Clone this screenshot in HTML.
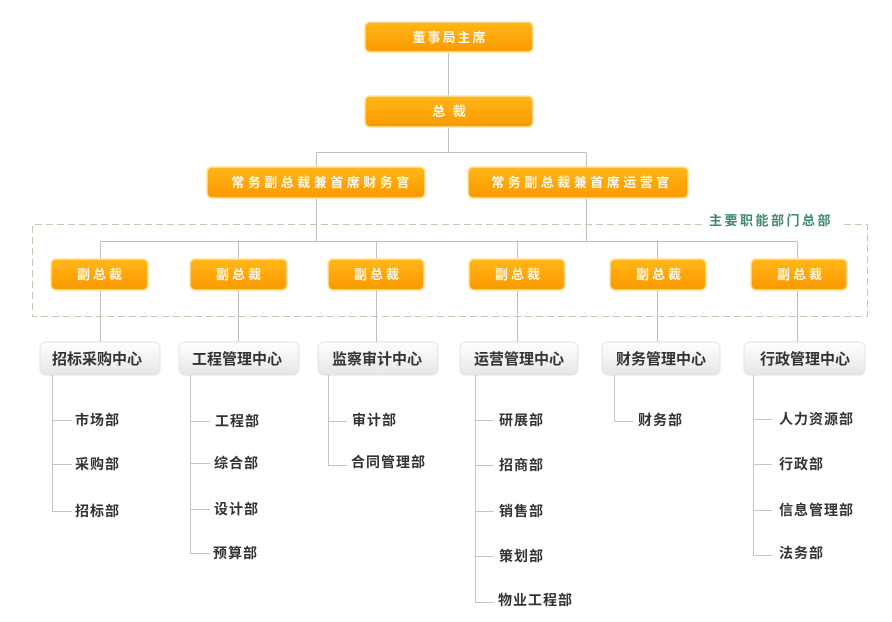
<!DOCTYPE html>
<html><head><meta charset="utf-8"><style>
html,body{margin:0;padding:0;background:#fff;width:892px;height:622px;overflow:hidden}
svg text{font-family:"Liberation Sans","Noto Sans CJK SC",sans-serif;font-weight:bold}
</style></head><body>
<svg width="892" height="622" viewBox="0 0 892 622" xmlns="http://www.w3.org/2000/svg">
<defs>
<linearGradient id="og" x1="0" y1="0" x2="0" y2="1">
<stop offset="0" stop-color="#ffb81c"/><stop offset="0.5" stop-color="#ffa70a"/><stop offset="1" stop-color="#f79a00"/>
</linearGradient>
<linearGradient id="gg" x1="0" y1="0" x2="0" y2="1">
<stop offset="0" stop-color="#ffffff"/><stop offset="1" stop-color="#e6e6e6"/>
</linearGradient>
</defs>
<g stroke="#b8c0c8" stroke-width="1" fill="none">
<line x1="448.5" y1="52" x2="448.5" y2="96"/>
<line x1="448.5" y1="127" x2="448.5" y2="152.5"/>
<line x1="316.5" y1="152.5" x2="586.5" y2="152.5"/>
<line x1="316.5" y1="152.5" x2="316.5" y2="167"/>
<line x1="586.5" y1="152.5" x2="586.5" y2="167"/>
<line x1="316.5" y1="198" x2="316.5" y2="241.5"/>
<line x1="586.5" y1="198" x2="586.5" y2="241.5"/>
<line x1="100.5" y1="241.5" x2="797.5" y2="241.5"/>
<line x1="100.5" y1="241.5" x2="100.5" y2="342"/>
<line x1="238.5" y1="241.5" x2="238.5" y2="342"/>
<line x1="376.5" y1="241.5" x2="376.5" y2="342"/>
<line x1="517.5" y1="241.5" x2="517.5" y2="342"/>
<line x1="657.5" y1="241.5" x2="657.5" y2="342"/>
<line x1="797.5" y1="241.5" x2="797.5" y2="342"/>
</g>
<path d="M702 224.5 H32.5 V316.5 H867.5 V224.5 H840" stroke="#c4c8b0" stroke-dasharray="7,4" fill="none"/>
<text x="771" y="225" font-size="13" fill="#3f8a6a" text-anchor="middle" letter-spacing="2.5">主要职能部门总部</text>
<g fill="url(#og)" stroke="#ffe2a0" stroke-width="1.5">
<rect x="365" y="22" width="168" height="30" rx="5"/>
<rect x="365" y="96" width="168" height="31" rx="5"/>
<rect x="207" y="167" width="218" height="31" rx="5"/>
<rect x="468" y="167" width="220" height="31" rx="5"/>
<rect x="51" y="259" width="97" height="31" rx="5"/>
<rect x="190" y="259" width="97" height="31" rx="5"/>
<rect x="328" y="259" width="96" height="31" rx="5"/>
<rect x="469" y="259" width="96" height="31" rx="5"/>
<rect x="610" y="259" width="96" height="31" rx="5"/>
<rect x="751" y="259" width="96" height="31" rx="5"/>
</g>
<g fill="#fff8ea" font-size="13" text-anchor="middle">
<text x="450" y="42" letter-spacing="2">董事局主席</text>
<text x="450" y="116" letter-spacing="2">总  裁</text>
<text x="322" y="187" letter-spacing="3.5">常务副总裁兼首席财务官</text>
<text x="582" y="187" letter-spacing="3.5">常务副总裁兼首席运营官</text>
<text x="101" y="279" letter-spacing="3">副总裁</text>
<text x="240" y="279" letter-spacing="3">副总裁</text>
<text x="378" y="279" letter-spacing="3">副总裁</text>
<text x="519" y="279" letter-spacing="3">副总裁</text>
<text x="660" y="279" letter-spacing="3">副总裁</text>
<text x="801" y="279" letter-spacing="3">副总裁</text>
</g>
<g fill="url(#gg)" stroke="#e2e2e2" stroke-width="1">
<rect x="40" y="342" width="120" height="33" rx="6"/>
<rect x="179" y="342" width="120" height="33" rx="6"/>
<rect x="318" y="342" width="120" height="33" rx="6"/>
<rect x="460" y="342" width="118" height="33" rx="6"/>
<rect x="602" y="342" width="118" height="33" rx="6"/>
<rect x="744" y="342" width="121" height="33" rx="6"/>
</g>
<g fill="#333" font-size="15" text-anchor="middle">
<text x="97" y="364">招标采购中心</text>
<text x="237" y="364">工程管理中心</text>
<text x="377" y="364">监察审计中心</text>
<text x="519" y="364">运营管理中心</text>
<text x="661" y="364">财务管理中心</text>
<text x="805" y="364">行政管理中心</text>
</g>
<g stroke="#c4c4c4" stroke-width="1" fill="none">
<path d="M52.5 375 V511.5 H72 M52.5 420.5 H72 M52.5 464.5 H72"/>
<path d="M190.5 375 V553.5 H210 M190.5 421.5 H210 M190.5 463.5 H210 M190.5 509.5 H210"/>
<path d="M328.5 375 V465.5 H347 M328.5 421.5 H347"/>
<path d="M475.5 375 V602.5 H494 M475.5 420.5 H494 M475.5 465.5 H494 M475.5 511.5 H494 M475.5 556.5 H494"/>
<path d="M614.5 375 V421.5 H633"/>
<path d="M753.5 375 V555.5 H772 M753.5 419.5 H772 M753.5 464.5 H772 M753.5 510.5 H772"/>
</g>
<g fill="#333" font-size="14" letter-spacing="1">
<text x="75" y="425">市场部</text>
<text x="75" y="469">采购部</text>
<text x="75" y="516">招标部</text>
<text x="215" y="426">工程部</text>
<text x="214" y="468">综合部</text>
<text x="214" y="514">设计部</text>
<text x="213" y="558">预算部</text>
<text x="352" y="425">审计部</text>
<text x="351" y="467">合同管理部</text>
<text x="499" y="425">研展部</text>
<text x="499" y="470">招商部</text>
<text x="499" y="516">销售部</text>
<text x="499" y="561">策划部</text>
<text x="498" y="605">物业工程部</text>
<text x="638" y="425">财务部</text>
<text x="779" y="424">人力资源部</text>
<text x="779" y="469">行政部</text>
<text x="779" y="515">信息管理部</text>
<text x="779" y="558">法务部</text>
</g>
</svg>
</body></html>
